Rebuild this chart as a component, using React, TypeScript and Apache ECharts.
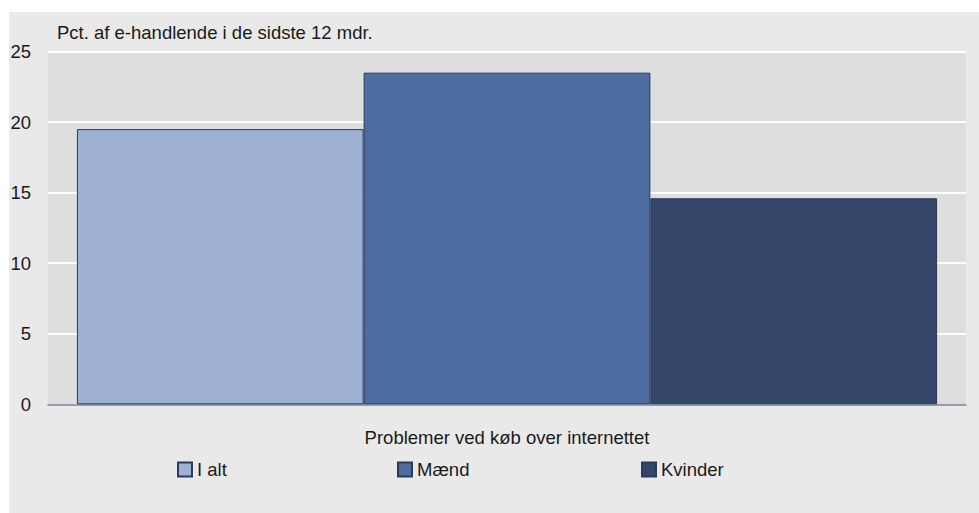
import React, { useEffect, useRef } from "react";
import * as echarts from "echarts";

const categories = ["Problemer ved køb over internettet"];
const seriesNames = ["I alt", "Mænd", "Kvinder"];
const seriesValues = [[19.5], [23.5], [14.6]];
const seriesColors = ["#9fb0d5", "#4d6ca0", "#34476a"];
const yTicks = [0, 5, 10, 15, 20, 25];
const titleText = "Pct. af e-handlende i de sidste 12 mdr.";

const FONT = "'Liberation Sans Narrow', 'Liberation Sans', 'DejaVu Sans Condensed', sans-serif";

export default function App() {
  const ref = useRef<HTMLDivElement>(null);
  useEffect(() => {
    document.body.style.margin = "0";
    if (!ref.current) return;
    const chart = echarts.init(ref.current, null, { renderer: "svg" });
    const legendLefts = [172, 392, 636];
    chart.setOption({
      animation: false,
      backgroundColor: "#ffffff",
      textStyle: { fontFamily: FONT },
      graphic: [
        {
          type: "rect",
          z: -10,
          shape: { x: 9, y: 12, width: 970, height: 501 },
          style: { fill: "#e9e9e9" },
          silent: true,
        },
      ],
      title: {
        text: titleText,
        left: 52,
        top: 18,
        textStyle: { fontFamily: FONT, fontSize: 18.5, fontWeight: "normal", color: "#1a1a1a" },
      },
      legend: seriesNames.map((n, i) => ({
        data: [n],
        left: legendLefts[i],
        top: 455,
        itemWidth: 14,
        itemHeight: 14,
        itemGap: 0,
        icon: "rect",
        textStyle: { fontFamily: FONT, fontSize: 18.5, color: "#1a1a1a" },
      })),
      grid: {
        left: 48,
        right: 13,
        top: 51.5,
        bottom: 108.7,
        show: true,
        backgroundColor: "#dedede",
        borderWidth: 0,
      },
      xAxis: {
        type: "category",
        data: categories,
        axisLine: { show: true, lineStyle: { color: "#6f7d96", width: 1.5 } },
        axisTick: { show: false },
        axisLabel: { fontFamily: FONT, fontSize: 18.5, color: "#1a1a1a", margin: 24 },
      },
      yAxis: {
        type: "value",
        min: yTicks[0],
        max: yTicks[yTicks.length - 1],
        interval: 5,
        axisLine: { show: false },
        axisTick: { show: false },
        splitLine: { show: true, lineStyle: { color: "#ffffff", width: 2 } },
        axisLabel: { fontFamily: FONT, fontSize: 18.5, color: "#1a1a1a", margin: 17 },
      },
      series: seriesNames.map((n, i) => ({
        name: n,
        type: "bar",
        data: seriesValues[i],
        barGap: "0%",
        barCategoryGap: "6.3%",
        itemStyle: { color: seriesColors[i], borderColor: "#2b3a57", borderWidth: 1 },
      })),
    });
    return () => chart.dispose();
  }, []);
  return <div ref={ref} style={{ width: 979, height: 513 }} />;
}
